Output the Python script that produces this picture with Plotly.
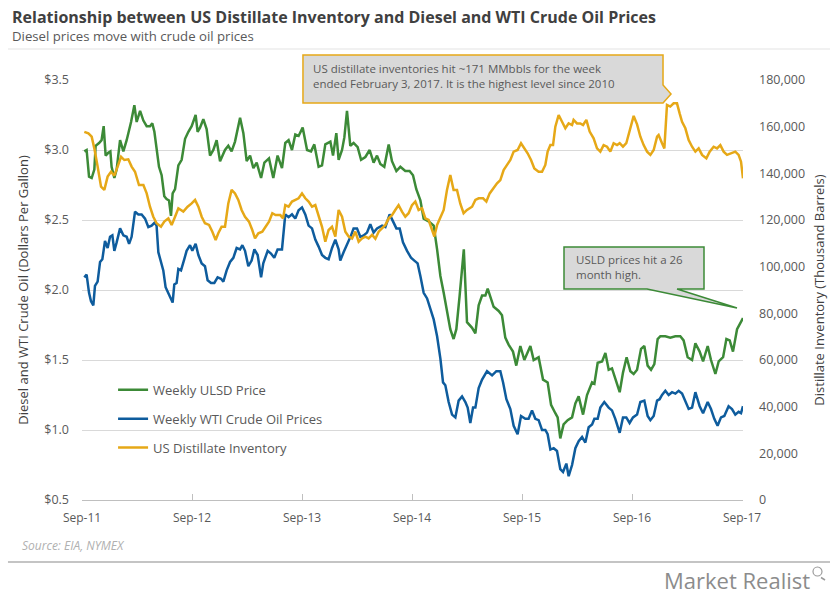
import plotly.graph_objects as go

# ---------------- data ----------------
ulsd_year = [2011.688, 2011.709, 2011.731, 2011.755, 2011.779, 2011.791, 2011.822, 2011.845, 2011.864, 2011.882,
             2011.906, 2011.925, 2011.936, 2011.961, 2011.982, 2012.013, 2012.043, 2012.073, 2012.113, 2012.143,
             2012.164, 2012.195, 2012.225, 2012.255, 2012.285, 2012.306, 2012.325, 2012.345, 2012.367, 2012.391,
             2012.415, 2012.436, 2012.458, 2012.476, 2012.491, 2012.513, 2012.543, 2012.573, 2012.604, 2012.634,
             2012.664, 2012.700, 2012.718, 2012.740, 2012.770, 2012.800, 2012.831, 2012.861, 2012.891, 2012.922,
             2012.967, 2012.997, 2013.027, 2013.058, 2013.104, 2013.134, 2013.164, 2013.195, 2013.225, 2013.255,
             2013.295, 2013.325, 2013.367, 2013.406, 2013.445, 2013.485, 2013.515, 2013.545, 2013.576, 2013.606,
             2013.636, 2013.673, 2013.713, 2013.749, 2013.779, 2013.818, 2013.849, 2013.879, 2013.925, 2013.949,
             2013.979, 2014.000, 2014.031, 2014.052, 2014.076, 2014.106, 2014.136, 2014.173, 2014.204, 2014.243,
             2014.282, 2014.318, 2014.349, 2014.379, 2014.415, 2014.455, 2014.485, 2014.525, 2014.561, 2014.606,
             2014.645, 2014.676, 2014.706, 2014.743, 2014.773, 2014.818, 2014.864, 2014.895, 2014.925, 2014.955,
             2014.985, 2015.015, 2015.045, 2015.070, 2015.100, 2015.138, 2015.167, 2015.191, 2015.213, 2015.243,
             2015.273, 2015.304, 2015.334, 2015.355, 2015.379, 2015.409, 2015.455, 2015.485, 2015.515, 2015.545,
             2015.585, 2015.615, 2015.652, 2015.688, 2015.743, 2015.773, 2015.818, 2015.858, 2015.900, 2015.931,
             2015.970, 2015.991, 2016.015, 2016.045, 2016.082, 2016.122, 2016.152, 2016.182, 2016.222, 2016.258,
             2016.304, 2016.325, 2016.355, 2016.395, 2016.425, 2016.455, 2016.485, 2016.515, 2016.555, 2016.585,
             2016.618, 2016.652, 2016.682, 2016.713, 2016.749, 2016.779, 2016.809, 2016.840, 2016.870, 2016.900,
             2016.925, 2016.970, 2017.015, 2017.061, 2017.106, 2017.136, 2017.173, 2017.213, 2017.243, 2017.282,
             2017.313, 2017.355, 2017.385, 2017.425, 2017.455, 2017.495, 2017.525, 2017.555, 2017.585, 2017.622,
             2017.652, 2017.676]
ulsd_price = [2.99, 3.00, 2.81, 2.80, 2.86, 3.03, 3.05, 3.07, 3.17, 2.96,
              2.98, 2.99, 2.88, 2.80, 2.86, 3.07, 2.99, 3.07, 3.20, 3.32,
              3.20, 3.28, 3.21, 3.17, 3.17, 3.19, 3.13, 2.99, 2.88, 2.82,
              2.67, 2.65, 2.64, 2.53, 2.69, 2.72, 2.89, 2.93, 3.08, 3.13,
              3.17, 3.25, 3.13, 3.16, 3.22, 3.15, 2.96, 3.00, 3.07, 2.92,
              3.00, 3.03, 2.99, 3.06, 3.23, 3.12, 2.92, 2.96, 2.87, 2.91,
              2.80, 2.91, 2.94, 2.80, 2.96, 2.87, 3.05, 3.07, 3.00, 3.11,
              3.10, 3.16, 3.00, 2.99, 3.04, 2.88, 2.89, 3.04, 3.06, 2.96,
              3.12, 2.93, 3.00, 3.09, 3.28, 3.03, 3.05, 3.02, 2.93, 2.95,
              3.00, 2.91, 2.96, 2.90, 2.88, 3.04, 2.92, 2.85, 2.88, 2.85,
              2.85, 2.82, 2.72, 2.64, 2.51, 2.49, 2.46, 2.29, 2.10, 1.98,
              1.86, 1.72, 1.65, 1.72, 1.96, 2.29, 1.77, 1.75, 1.73, 1.69,
              1.89, 1.96, 1.96, 2.01, 1.95, 1.88, 1.85, 1.82, 1.66, 1.61,
              1.56, 1.46, 1.60, 1.50, 1.60, 1.50, 1.52, 1.36, 1.34, 1.18,
              1.12, 1.09, 0.94, 1.04, 1.07, 1.09, 1.19, 1.24, 1.11, 1.25,
              1.34, 1.33, 1.48, 1.49, 1.55, 1.43, 1.44, 1.36, 1.27, 1.41,
              1.52, 1.42, 1.40, 1.43, 1.58, 1.60, 1.46, 1.43, 1.47, 1.65,
              1.67, 1.67, 1.66, 1.67, 1.67, 1.64, 1.52, 1.50, 1.62, 1.56,
              1.49, 1.60, 1.50, 1.40, 1.49, 1.52, 1.65, 1.64, 1.56, 1.72,
              1.77, 1.80]

wti_year = [2011.688, 2011.709, 2011.731, 2011.749, 2011.770, 2011.785, 2011.809, 2011.831, 2011.852, 2011.876,
            2011.900, 2011.922, 2011.943, 2011.961, 2011.982, 2012.013, 2012.043, 2012.073, 2012.095, 2012.118,
            2012.149, 2012.179, 2012.209, 2012.240, 2012.270, 2012.300, 2012.325, 2012.345, 2012.361, 2012.385,
            2012.406, 2012.427, 2012.452, 2012.476, 2012.491, 2012.506, 2012.527, 2012.543, 2012.567, 2012.597,
            2012.618, 2012.649, 2012.670, 2012.700, 2012.725, 2012.755, 2012.785, 2012.809, 2012.840, 2012.870,
            2012.900, 2012.931, 2012.952, 2012.982, 2013.013, 2013.043, 2013.073, 2013.104, 2013.125, 2013.149,
            2013.179, 2013.209, 2013.234, 2013.264, 2013.295, 2013.315, 2013.355, 2013.385, 2013.415, 2013.445,
            2013.485, 2013.515, 2013.545, 2013.576, 2013.606, 2013.636, 2013.667, 2013.697, 2013.727, 2013.758,
            2013.788, 2013.818, 2013.849, 2013.879, 2013.909, 2013.940, 2013.970, 2014.000, 2014.015, 2014.045,
            2014.082, 2014.113, 2014.136, 2014.167, 2014.197, 2014.227, 2014.258, 2014.288, 2014.318, 2014.349,
            2014.395, 2014.425, 2014.464, 2014.495, 2014.525, 2014.555, 2014.585, 2014.622, 2014.658, 2014.688,
            2014.718, 2014.743, 2014.773, 2014.804, 2014.834, 2014.864, 2014.895, 2014.925, 2014.949, 2014.970,
            2015.000, 2015.031, 2015.061, 2015.091, 2015.122, 2015.152, 2015.173, 2015.197, 2015.222, 2015.243,
            2015.273, 2015.304, 2015.349, 2015.395, 2015.434, 2015.470, 2015.495, 2015.525, 2015.561, 2015.591,
            2015.627, 2015.658, 2015.697, 2015.727, 2015.758, 2015.788, 2015.818, 2015.849, 2015.879, 2015.900,
            2015.925, 2015.955, 2015.985, 2016.015, 2016.040, 2016.070, 2016.091, 2016.122, 2016.152, 2016.182,
            2016.213, 2016.243, 2016.273, 2016.304, 2016.325, 2016.355, 2016.379, 2016.415, 2016.455, 2016.485,
            2016.515, 2016.555, 2016.585, 2016.615, 2016.645, 2016.676, 2016.713, 2016.743, 2016.779, 2016.809,
            2016.834, 2016.864, 2016.895, 2016.918, 2016.940, 2016.970, 2017.000, 2017.031, 2017.061, 2017.091,
            2017.122, 2017.152, 2017.182, 2017.213, 2017.243, 2017.282, 2017.313, 2017.355, 2017.385, 2017.415,
            2017.445, 2017.476, 2017.506, 2017.545, 2017.576, 2017.606, 2017.636, 2017.658, 2017.676]
wti_price = [2.09, 2.11, 1.98, 1.92, 1.89, 2.03, 2.06, 2.20, 2.22, 2.35,
             2.30, 2.38, 2.39, 2.28, 2.34, 2.44, 2.39, 2.38, 2.33, 2.38,
             2.56, 2.54, 2.54, 2.51, 2.45, 2.46, 2.48, 2.46, 2.27, 2.19,
             2.14, 2.02, 1.98, 1.94, 1.91, 2.04, 2.05, 2.15, 2.14, 2.22,
             2.28, 2.32, 2.28, 2.33, 2.25, 2.19, 2.17, 2.07, 2.05, 2.05,
             2.09, 2.08, 2.06, 2.14, 2.20, 2.23, 2.30, 2.29, 2.32, 2.28,
             2.17, 2.21, 2.29, 2.25, 2.09, 2.19, 2.28, 2.26, 2.23, 2.29,
             2.29, 2.54, 2.52, 2.54, 2.51, 2.57, 2.59, 2.54, 2.46, 2.44,
             2.36, 2.31, 2.25, 2.23, 2.22, 2.30, 2.36, 2.29, 2.21, 2.27,
             2.33, 2.39, 2.44, 2.44, 2.38, 2.39, 2.41, 2.47, 2.41, 2.44,
             2.46, 2.45, 2.54, 2.49, 2.44, 2.44, 2.34, 2.28, 2.23, 2.21,
             2.19, 2.10, 1.98, 1.94, 1.86, 1.79, 1.67, 1.51, 1.34, 1.32,
             1.20, 1.11, 1.09, 1.21, 1.24, 1.20, 1.16, 1.05, 1.16, 1.16,
             1.30, 1.36, 1.42, 1.39, 1.42, 1.42, 1.34, 1.22, 1.15, 1.03,
             0.97, 1.10, 1.08, 1.08, 1.14, 1.08, 1.07, 1.00, 1.00, 0.97,
             0.86, 0.87, 0.85, 0.72, 0.70, 0.76, 0.67, 0.75, 0.87, 0.92,
             0.95, 0.91, 1.02, 1.04, 1.08, 1.08, 1.16, 1.20, 1.16, 1.14,
             1.08, 0.98, 1.09, 1.09, 1.05, 1.09, 1.11, 1.20, 1.21, 1.10,
             1.07, 1.10, 1.21, 1.22, 1.25, 1.28, 1.25, 1.27, 1.26, 1.28,
             1.26, 1.21, 1.15, 1.16, 1.27, 1.17, 1.12, 1.20, 1.15, 1.08,
             1.03, 1.09, 1.10, 1.17, 1.15, 1.11, 1.13, 1.12, 1.17]

inv_year = [2011.688, 2011.725, 2011.755, 2011.779, 2011.809, 2011.840, 2011.870, 2011.900, 2011.931, 2011.961,
            2011.991, 2012.022, 2012.052, 2012.088, 2012.118, 2012.149, 2012.185, 2012.225, 2012.255, 2012.285,
            2012.315, 2012.345, 2012.385, 2012.415, 2012.452, 2012.482, 2012.513, 2012.543, 2012.588, 2012.627,
            2012.664, 2012.695, 2012.725, 2012.755, 2012.785, 2012.822, 2012.852, 2012.882, 2012.906, 2012.936,
            2012.967, 2012.997, 2013.027, 2013.058, 2013.088, 2013.118, 2013.149, 2013.185, 2013.215, 2013.240,
            2013.270, 2013.306, 2013.336, 2013.367, 2013.397, 2013.427, 2013.470, 2013.495, 2013.515, 2013.545,
            2013.576, 2013.606, 2013.636, 2013.667, 2013.697, 2013.727, 2013.758, 2013.788, 2013.818, 2013.849,
            2013.879, 2013.909, 2013.940, 2013.970, 2014.000, 2014.031, 2014.061, 2014.091, 2014.122, 2014.152,
            2014.182, 2014.213, 2014.243, 2014.273, 2014.304, 2014.334, 2014.364, 2014.395, 2014.425, 2014.455,
            2014.485, 2014.515, 2014.545, 2014.576, 2014.606, 2014.636, 2014.667, 2014.697, 2014.727, 2014.758,
            2014.788, 2014.818, 2014.849, 2014.870, 2014.895, 2014.925, 2014.955, 2014.985, 2015.015, 2015.045,
            2015.076, 2015.106, 2015.136, 2015.167, 2015.213, 2015.243, 2015.273, 2015.313, 2015.343, 2015.373,
            2015.404, 2015.440, 2015.470, 2015.500, 2015.531, 2015.561, 2015.591, 2015.627, 2015.658, 2015.688,
            2015.718, 2015.749, 2015.779, 2015.818, 2015.849, 2015.879, 2015.900, 2015.925, 2015.949, 2015.970,
            2016.000, 2016.031, 2016.061, 2016.091, 2016.122, 2016.136, 2016.167, 2016.197, 2016.222, 2016.252,
            2016.282, 2016.318, 2016.349, 2016.379, 2016.409, 2016.440, 2016.470, 2016.500, 2016.531, 2016.555,
            2016.585, 2016.615, 2016.652, 2016.682, 2016.713, 2016.743, 2016.773, 2016.804, 2016.834, 2016.864,
            2016.895, 2016.909, 2016.940, 2016.961, 2016.985, 2017.015, 2017.045, 2017.076, 2017.100, 2017.122,
            2017.152, 2017.182, 2017.213, 2017.243, 2017.273, 2017.304, 2017.343, 2017.373, 2017.409, 2017.440,
            2017.470, 2017.500, 2017.531, 2017.567, 2017.606, 2017.636, 2017.658, 2017.676]
inv_kbbl = [157800, 157100, 155700, 150700, 142900, 134300, 132900, 138600, 140700, 139000,
            142900, 147100, 145700, 146000, 142900, 140700, 135000, 135000, 131400, 125700,
            121400, 118600, 117100, 119300, 120700, 117900, 121400, 125000, 123600, 125700,
            127100, 128600, 125700, 121400, 118600, 117900, 115000, 111400, 114300, 117100,
            117100, 127100, 132900, 131400, 128600, 124300, 121400, 119300, 115700, 112100,
            114300, 115000, 117100, 119300, 122900, 122100, 122100, 120700, 126400, 125700,
            127900, 128600, 129300, 131400, 129300, 127900, 125700, 126400, 121400, 117100,
            110700, 115700, 117100, 112900, 124300, 121400, 115000, 112900, 112100, 115000,
            110700, 112100, 112900, 112100, 113600, 112000, 115000, 116400, 117900, 120700,
            122100, 124300, 126400, 123600, 121400, 122900, 126400, 127900, 124300, 125000,
            120700, 120000, 115700, 112900, 117900, 121400, 124300, 132900, 139300, 132900,
            132900, 127000, 122900, 124300, 125700, 128600, 129300, 129300, 127900, 131400,
            133600, 135700, 137100, 141400, 143600, 145700, 149300, 150000, 152900, 150700,
            148600, 145700, 142100, 140700, 140700, 143600, 149300, 152100, 152100, 160000,
            165000, 162100, 159300, 161400, 160700, 162900, 161400, 161400, 160700, 162900,
            157900, 155000, 150700, 149300, 152100, 151400, 149300, 152900, 152100, 152900,
            151400, 152900, 159300, 164600, 161000, 155700, 152100, 149300, 147900, 150000,
            155700, 156400, 152900, 150700, 169300, 168600, 170000, 170000, 165700, 162100,
            159300, 154300, 151400, 149300, 150700, 147900, 146400, 149300, 151400, 150700,
            152100, 149300, 147900, 148600, 149300, 147900, 145000, 137900]

sep_ticks = [2011.667, 2012.667, 2013.667, 2014.667, 2015.667, 2016.667, 2017.667]
sep_labels = ["Sep-11", "Sep-12", "Sep-13", "Sep-14", "Sep-15", "Sep-16", "Sep-17"]

GREEN = "#3c8a37"
BLUE = "#0e5c9d"
ORANGE = "#e6a817"
TXT = "#595959"
FONT = "Open Sans"

fig = go.Figure()
fig.add_trace(go.Scatter(x=ulsd_year, y=ulsd_price, mode="lines", name="Weekly ULSD Price",
                         line=dict(color=GREEN, width=2.5), legendgroup="a"))
fig.add_trace(go.Scatter(x=wti_year, y=wti_price, mode="lines", name="Weekly WTI Crude Oil Prices",
                         line=dict(color=BLUE, width=2.5), legendgroup="b"))
fig.add_trace(go.Scatter(x=inv_year, y=inv_kbbl, mode="lines", name="US Distillate Inventory",
                         line=dict(color=ORANGE, width=2.5), yaxis="y2", legendgroup="c"))

fig.update_layout(
    width=839, height=600,
    margin=dict(l=82, r=96, t=80, b=100),
    paper_bgcolor="white", plot_bgcolor="white",
    font=dict(family=FONT, color=TXT),
    showlegend=True,
    legend=dict(x=0.047, y=0.298, xanchor="left", yanchor="top", bgcolor="rgba(0,0,0,0)",
                font=dict(family=FONT, size=13, color=TXT), tracegroupgap=9, itemwidth=30),
    xaxis=dict(range=[2011.667, 2017.676], tickvals=sep_ticks, ticktext=sep_labels,
               showgrid=False, zeroline=False, showline=True, linecolor="#bfbfbf", linewidth=1,
               ticks="inside", ticklen=6, tickcolor="#bfbfbf",
               tickfont=dict(family=FONT, size=12, color=TXT), ticklabelstandoff=7),
    yaxis=dict(range=[0.5, 3.5], tick0=0.5, dtick=0.5, tickprefix="$", tickformat=".1f",
               showgrid=True, gridcolor="#d9d9d9", gridwidth=1, zeroline=False, showline=False,
               tickfont=dict(family=FONT, size=12.5, color=TXT), ticklabelstandoff=12,
               title=dict(text="Diesel and WTI Crude Oil (Dollars Per Gallon)",
                          font=dict(family=FONT, size=13, color="#404040"), standoff=12)),
    yaxis2=dict(range=[0, 180000], tick0=0, dtick=20000, tickformat=",", overlaying="y", side="right",
                showgrid=False, zeroline=False, showline=False,
                tickfont=dict(family=FONT, size=12.5, color=TXT), ticklabelstandoff=15,
                title=dict(text="Distillate Inventory (Thousand Barrels)",
                           font=dict(family=FONT, size=13, color="#404040"), standoff=10)),
)

shapes = [
    # rule under the subtitle
    dict(type="line", xref="paper", yref="paper", x0=-0.112, x1=1.1316, y0=1.0738, y1=1.0738,
         line=dict(color="#e3e3e3", width=1)),
    # rule above the logo
    dict(type="line", xref="paper", yref="paper", x0=-0.112, x1=1.1316, y0=-0.1476, y1=-0.1476,
         line=dict(color="#c4c4c4", width=2)),
    # inventory callout
    dict(type="path", xref="paper", yref="paper",
         path="M0.3343,1.0595 L0.8790,1.0595 L0.8790,0.9881 L0.8911,0.9667 L0.8790,0.9452 L0.3343,0.9452 Z",
         fillcolor="#d9d9d9", line=dict(color=ORANGE, width=1.5)),
    # ULSD callout
    dict(type="path", xref="paper", yref="paper",
         path="M0.7292,0.6024 L0.9410,0.6024 L0.9410,0.5024 L0.9002,0.5024 L0.9909,0.4571 L0.8548,0.5024 L0.7292,0.5024 Z",
         fillcolor="#d9d9d9", line=dict(color=GREEN, width=1.5)),
    # magnifier of the logo
    dict(type="circle", xref="paper", yref="paper", x0=1.1059, x1=1.1195, y0=-0.181, y1=-0.1595,
         line=dict(color="#9a9a9a", width=1.2)),
    dict(type="line", xref="paper", yref="paper", x0=1.118, x1=1.1241, y0=-0.1845, y1=-0.1905,
         line=dict(color="#9a9a9a", width=1.5)),
]
fig.update_layout(shapes=shapes)

annotations = [
    dict(text="<b>Relationship between US Distillate Inventory and Diesel and WTI Crude Oil Prices</b>",
         xref="paper", yref="paper", x=-0.1089, y=1.15, xanchor="left", yanchor="middle", showarrow=False,
         font=dict(family=FONT, size=16, color="#404040")),
    dict(text="Diesel prices move with crude oil prices",
         xref="paper", yref="paper", x=-0.1089, y=1.1048, xanchor="left", yanchor="middle", showarrow=False,
         font=dict(family=FONT, size=13.2, color=TXT)),
    dict(text="US distillate inventories hit ~171 MMbbls for the week<br>ended February 3, 2017. It is the highest level since 2010",
         xref="paper", yref="paper", x=0.346, y=1.05, xanchor="left", yanchor="top", align="left",
         showarrow=False, font=dict(family=FONT, size=11.5, color=TXT)),
    dict(text="USLD prices hit a 26<br>month high.",
         xref="paper", yref="paper", x=0.7443, y=0.595, xanchor="left", yanchor="top", align="left",
         showarrow=False, font=dict(family=FONT, size=11.5, color=TXT)),
    dict(text="<i>Source: EIA, NYMEX</i>",
         xref="paper", yref="paper", x=-0.0938, y=-0.1095, xanchor="left", yanchor="middle", showarrow=False,
         font=dict(family=FONT, size=12, color="#b0b0b0")),
    dict(text="Market Realist",
         xref="paper", yref="paper", x=1.1044, y=-0.1905, xanchor="right", yanchor="middle", showarrow=False,
         font=dict(family=FONT, size=22, color="#8c8c8c")),
]
fig.update_layout(annotations=annotations)

fig.write_html("out.html")
